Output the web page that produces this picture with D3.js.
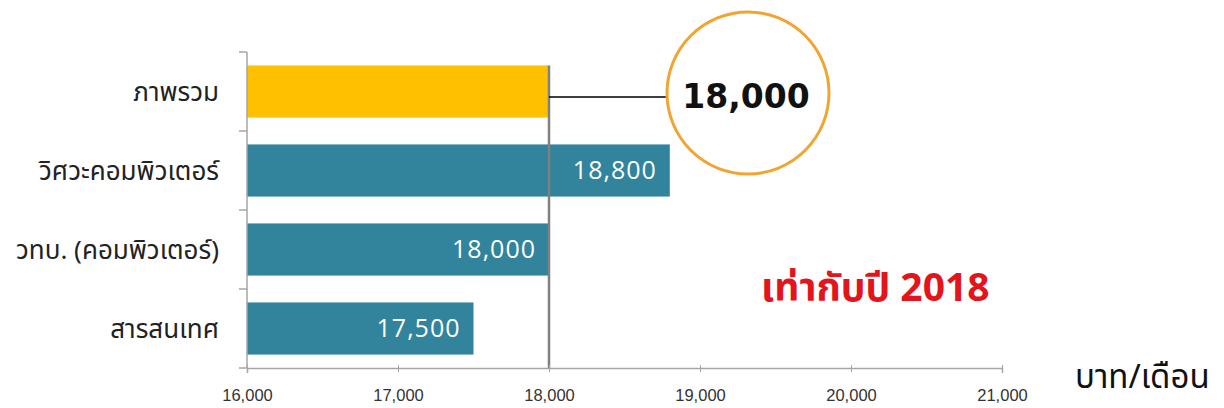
<!DOCTYPE html>
<html>
<head>
<meta charset="utf-8">
<script src="https://cdn.jsdelivr.net/npm/d3@7"></script>
<style>
  html, body { margin: 0; padding: 0; background: #fff; }
  svg { display: block; }
  .thai { font-family: "Noto Sans Thai", "Noto Sans Thai UI", "Noto Sans", sans-serif; }
</style>
</head>
<body>
<svg id="chart" width="1224" height="408"></svg>
<script>
const categories = ["ภาพรวม", "วิศวะคอมพิวเตอร์", "วทบ. (คอมพิวเตอร์)", "สารสนเทศ"];
const values = [18000, 18800, 18000, 17500];
const highlight = [true, false, false, false];
const xTicks = [16000, 17000, 18000, 19000, 20000, 21000];
const referenceValue = 18000;
const calloutText = "18,000";
const noteText = "เท่ากับปี 2018";
const unitText = "บาท/เดือน";

const svg = d3.select("#chart");
const x = d3.scaleLinear().domain([16000, 21000]).range([247, 1002]);
const y = d3.scaleBand().domain(categories).range([52, 368]).paddingInner(0.34).paddingOuter(0.17);
const fmt = d3.format(",");

// bars
svg.selectAll("rect.bar").data(categories).join("rect")
  .attr("class", "bar")
  .attr("x", x(16000))
  .attr("y", d => y(d))
  .attr("width", (d, i) => x(values[i]) - x(16000))
  .attr("height", y.bandwidth())
  .attr("fill", (d, i) => highlight[i] ? "#FFC000" : "#31849B");

// value labels inside teal bars
svg.selectAll("text.val").data(categories.filter((d, i) => !highlight[i])).join("text")
  .attr("class", "val")
  .attr("x", d => x(values[categories.indexOf(d)]) - 13)
  .attr("y", d => y(d) + y.bandwidth() / 2)
  .attr("dy", "0.35em")
  .attr("text-anchor", "end")
  .attr("fill", "#ffffff")
  .style("font-family", "'Open Sans', sans-serif")
  .style("font-size", "25px")
  .style("letter-spacing", "1px")
  .text(d => fmt(values[categories.indexOf(d)]));

// reference vertical line at 18,000
svg.append("line")
  .attr("x1", x(referenceValue)).attr("x2", x(referenceValue))
  .attr("y1", y(categories[0])).attr("y2", 368)
  .attr("stroke", "#808080").attr("stroke-width", 2.5);

// bottom axis
const xAxis = svg.append("g")
  .attr("transform", "translate(0,368)")
  .call(d3.axisBottom(x).tickValues(xTicks).tickFormat(fmt).tickSize(5).tickPadding(16));
xAxis.select(".domain").attr("stroke", "#A6A6A6").attr("stroke-width", 1.5);
xAxis.selectAll(".tick line").attr("stroke", "#A6A6A6").attr("y1", -3).attr("y2", 4);
xAxis.selectAll(".tick text")
  .attr("fill", "#333")
  .style("font-family", "'Liberation Sans', sans-serif")
  .style("font-size", "16.5px");

// left axis line + boundary ticks
const step = y.step();
const boundaries = categories.map(c => y(c) - y.paddingInner() * step / 2).concat([368]);
svg.append("line")
  .attr("x1", x(16000)).attr("x2", x(16000))
  .attr("y1", boundaries[0]).attr("y2", 368)
  .attr("stroke", "#A6A6A6").attr("stroke-width", 1.5);
svg.selectAll("line.ytick").data(boundaries).join("line")
  .attr("class", "ytick")
  .attr("x1", x(16000) - 8).attr("x2", x(16000))
  .attr("y1", d => d).attr("y2", d => d)
  .attr("stroke", "#A6A6A6").attr("stroke-width", 1.5);

// category labels
svg.selectAll("text.cat").data(categories).join("text")
  .attr("class", "cat thai")
  .attr("x", 219)
  .attr("y", d => y(d) + y.bandwidth() / 2)
  .attr("dy", "0.35em")
  .attr("text-anchor", "end")
  .attr("fill", "#222")
  .style("font-size", "26px")
  .text(d => d);

// callout
const cx = 748, cy = 93, r = 81;
svg.append("line")
  .attr("x1", x(referenceValue)).attr("x2", cx - r)
  .attr("y1", 97).attr("y2", 97)
  .attr("stroke", "#000").attr("stroke-width", 1.5);
svg.append("circle")
  .attr("cx", cx).attr("cy", cy).attr("r", r)
  .attr("fill", "#fff").attr("stroke", "#F2A431").attr("stroke-width", 3);
svg.append("text")
  .attr("x", cx - 2).attr("y", cy + 3)
  .attr("dy", "0.35em")
  .attr("text-anchor", "middle")
  .attr("fill", "#111")
  .style("font-family", "'DejaVu Sans', sans-serif")
  .style("font-weight", "bold")
  .style("font-size", "33px")
  .text(calloutText);

// note
svg.append("text")
  .attr("class", "thai")
  .attr("x", 761).attr("y", 287)
  .attr("dy", "0.35em")
  .attr("fill", "#E3141B")
  .style("font-size", "39px")
  .style("font-weight", "bold")
  .text(noteText);

// unit
svg.append("text")
  .attr("class", "thai")
  .attr("x", 1075).attr("y", 376)
  .attr("dy", "0.35em")
  .attr("fill", "#111")
  .style("font-size", "33px")
  .text(unitText);
</script>
</body>
</html>
